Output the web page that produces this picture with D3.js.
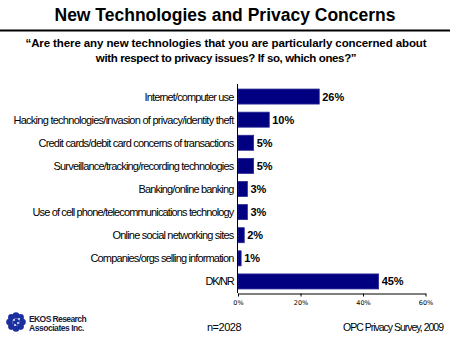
<!DOCTYPE html>
<html><head><meta charset="utf-8">
<script src="https://cdn.jsdelivr.net/npm/d3@7"></script>
<style>html,body{margin:0;padding:0;background:#fff;}svg{display:block;}</style>
</head><body>
<script>
const categories = [
  "Internet/computer use",
  "Hacking technologies/invasion of privacy/identity theft",
  "Credit cards/debit card concerns of transactions",
  "Surveillance/tracking/recording technologies",
  "Banking/online banking",
  "Use of cell phone/telecommunications technology",
  "Online social networking sites",
  "Companies/orgs selling information",
  "DK/NR"
];
const values = [26, 10, 5, 5, 3, 3, 2, 1, 45];
const xTicks = [0, 20, 40, 60];
const title = "New Technologies and Privacy Concerns";
const subtitle = ["\u201cAre there any new technologies that you are particularly concerned about",
                  "with respect to privacy issues?  If so, which ones?\u201d"];

const W = 450, H = 337;
const svg = d3.select("body").append("svg").attr("width", W).attr("height", H);

// fit text to a target width by adjusting letter-spacing
function fit(sel, target) {
  sel.each(function () {
    const t = typeof target === "function" ? target.apply(this, arguments) : target;
    const n = this.textContent.length;
    const w = this.getComputedTextLength();
    const ls = (t - w) / Math.max(1, n);
    d3.select(this).attr("letter-spacing", ls.toFixed(3));
  });
}

// Title
svg.append("text").attr("x", 225).attr("y", 21).attr("text-anchor", "middle")
  .attr("font-family", "Liberation Sans, Arial, sans-serif").attr("font-size", 17.5)
  .attr("font-weight", "bold").attr("fill", "#000").text(title).call(fit, 341);
svg.append("line").attr("x1", 0).attr("x2", W).attr("y1", 30.5).attr("y2", 30.5)
  .attr("stroke", "#000").attr("stroke-width", 2);

const subLens = [401, 260];
subtitle.forEach((s, i) => {
  svg.append("text").attr("x", 226).attr("y", 47 + i * 15).attr("text-anchor", "middle")
    .attr("font-family", "Liberation Sans, Arial, sans-serif").attr("font-size", 11.5)
    .attr("font-weight", "bold").attr("fill", "#000").text(s).call(fit, subLens[i]);
});

// Scales
const x = d3.scaleLinear().domain([0, 60]).range([238, 425.5]);
const y = d3.scaleBand().domain(categories).range([85, 293]).paddingInner(0.35).paddingOuter(0.175);

// Bars
svg.append("g").selectAll("rect").data(categories).join("rect")
  .attr("x", x(0)).attr("y", d => y(d))
  .attr("width", (d, i) => x(values[i]) - x(0)).attr("height", y.bandwidth())
  .attr("fill", "#000080").attr("stroke", "#2b2b95").attr("stroke-width", 0.8);

// Value labels
svg.append("g").selectAll("text").data(categories).join("text")
  .attr("x", (d, i) => x(values[i]) + 3).attr("y", d => y(d) + y.bandwidth() / 2 + 4)
  .attr("font-family", "Liberation Sans, Arial, sans-serif").attr("font-size", 11)
  .attr("font-weight", "bold").attr("fill", "#000")
  .text((d, i) => values[i] + "%");

// Category labels
const catLens = [89, 220, 195, 180, 95, 201, 121, 143, 28];
svg.append("g").selectAll("text").data(categories).join("text")
  .attr("x", 233.5).attr("y", d => y(d) + y.bandwidth() / 2 + 4)
  .attr("text-anchor", "end")
  .attr("font-family", "Liberation Sans, Arial, sans-serif").attr("font-size", 11)
  .attr("fill", "#000")
  .text(d => d)
  .call(fit, (d, i) => catLens[i]);

// Axes
svg.append("line").attr("x1", x(0) - 0.5).attr("x2", x(0) - 0.5)
  .attr("y1", 84).attr("y2", 293).attr("stroke", "#000").attr("stroke-width", 1);
const xAxis = svg.append("g").attr("transform", "translate(0,293.5)")
  .call(d3.axisBottom(x).tickValues(xTicks).tickSize(3).tickSizeOuter(0).tickFormat(d => d + "%"));
xAxis.select(".domain").attr("stroke", "#000");
xAxis.selectAll(".tick line").attr("stroke", "#000");
xAxis.selectAll(".tick text").attr("font-family", "DejaVu Sans, Verdana, sans-serif")
  .attr("font-size", 6.5).attr("fill", "#000").attr("dy", "0.9em");

// Footer
svg.append("text").attr("x", 224).attr("y", 331).attr("text-anchor", "middle")
  .attr("font-family", "Liberation Sans, Arial, sans-serif").attr("font-size", 11)
  .attr("fill", "#000").text("n=2028").call(fit, 34);
svg.append("text").attr("x", 443).attr("y", 331).attr("text-anchor", "end")
  .attr("font-family", "Liberation Sans, Arial, sans-serif").attr("font-size", 10.5)
  .attr("fill", "#000").text("OPC Privacy Survey, 2009").call(fit, 100);

// Logo
const logo = svg.append("g").attr("transform", "translate(16,322)");
const nDots = 8;
d3.range(nDots).forEach(k => {
  const a = k / nDots * 2 * Math.PI;
  logo.append("circle").attr("cx", 6.5 * Math.cos(a)).attr("cy", 6.5 * Math.sin(a))
    .attr("r", 3.3).attr("fill", "#1b2f9e");
});
logo.append("circle").attr("r", 3.2).attr("fill", "#1b2f9e");
[[-2, -2], [2, 1], [-1, 3], [3, -3]].forEach(p => {
  logo.append("circle").attr("cx", p[0]).attr("cy", p[1]).attr("r", 0.9).attr("fill", "#fff");
});
svg.append("text").attr("x", 29).attr("y", 321.5)
  .attr("font-family", "Liberation Sans, Arial, sans-serif").attr("font-size", 8.5)
  .attr("font-weight", "bold").attr("fill", "#1a1a3a").text("EKOS Research").call(fit, 57);
svg.append("text").attr("x", 29).attr("y", 330.5)
  .attr("font-family", "Liberation Sans, Arial, sans-serif").attr("font-size", 8.5)
  .attr("font-weight", "bold").attr("fill", "#1a1a3a").text("Associates Inc.").call(fit, 55);
</script>
</body></html>
